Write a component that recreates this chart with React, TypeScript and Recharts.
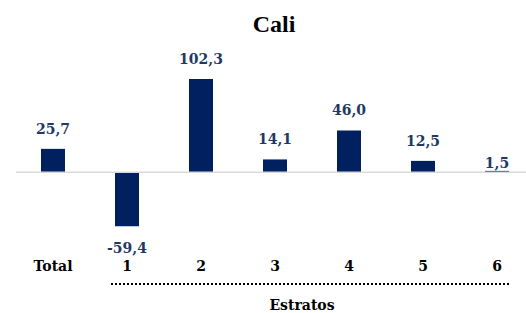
import { Bar, BarChart, LabelList, ReferenceLine, XAxis, YAxis } from 'recharts';

const categories = ['Total', '1', '2', '3', '4', '5', '6'];
const variation = [25.7, -59.4, 102.3, 14.1, 46.0, 12.5, 1.5];

const data = categories.map((name, i) => ({ name, value: variation[i] }));

const BAR_COLOR = '#002060';
const LABEL_COLOR = '#1f3864';
const FONT = "'DejaVu Serif', 'Liberation Serif', serif";
const TITLE_FONT = "'Liberation Serif', 'DejaVu Serif', serif";

const fmt = (v: number) => v.toFixed(1).replace('.', ',');

const renderLabel = (props: any) => {
  const { x, y, width, height, value } = props;
  const top = Math.min(y, y + height);
  const bottom = Math.max(y, y + height);
  const cx = x + width / 2;
  let ly = value < 0 ? bottom + 22 : top - 20;
  // tiny bars: Excel keeps the label just above the axis
  if (Math.abs(value) < 5) ly = top - 8;
  return (
    <text
      x={cx}
      y={ly}
      fill={LABEL_COLOR}
      fontFamily={FONT}
      fontWeight="bold"
      fontSize={14}
      textAnchor="middle"
      dominantBaseline="central"
    >
      {fmt(value)}
    </text>
  );
};

const renderTick = (props: any) => {
  const { x, y, payload } = props;
  return (
    <text
      x={x}
      y={y + 30}
      fill="#000"
      fontFamily={FONT}
      fontWeight="bold"
      fontSize={14}
      textAnchor="middle"
      dominantBaseline="central"
    >
      {payload.value}
    </text>
  );
};

export default function App() {
  return (
    <div
      style={{
        position: 'fixed',
        left: 0,
        top: 0,
        width: 526,
        height: 313,
        overflow: 'hidden',
        background: '#fff',
      }}
    >
      <div
        style={{
          position: 'absolute',
          left: 0,
          right: 0,
          top: 8,
          textAlign: 'center',
          paddingLeft: 22,
          fontFamily: TITLE_FONT,
          fontWeight: 'bold',
          fontSize: 24,
          lineHeight: '32px',
        }}
      >
        Cali
      </div>
      <BarChart
        width={534}
        height={313}
        data={data}
        margin={{ top: 63, right: 0, left: 16, bottom: 47 }}
        barCategoryGap={25}
      >
        <XAxis
          dataKey="name"
          height={30}
          axisLine={false}
          tickLine={false}
          tickSize={0}
          tickMargin={0}
          interval={0}
          tick={renderTick}
        />
        <YAxis hide domain={[-70, 120]} />
        <ReferenceLine y={0} stroke="#d9d9d9" strokeWidth={1.5} />
        <Bar dataKey="value" fill={BAR_COLOR} isAnimationActive={false}>
          <LabelList dataKey="value" content={renderLabel} />
        </Bar>
      </BarChart>
      {/* Estratos bracket */}
      <svg
        width={526}
        height={313}
        style={{ position: 'absolute', left: 0, top: 0, pointerEvents: 'none' }}
      >
        <line
          x1={111}
          y1={284}
          x2={509}
          y2={284}
          stroke="#000"
          strokeWidth={2}
          strokeDasharray="2 2"
        />
        <text
          x={302}
          y={305}
          fontFamily={FONT}
          fontWeight="bold"
          fontSize={14}
          textAnchor="middle"
          dominantBaseline="central"
        >
          Estratos
        </text>
      </svg>
    </div>
  );
}
